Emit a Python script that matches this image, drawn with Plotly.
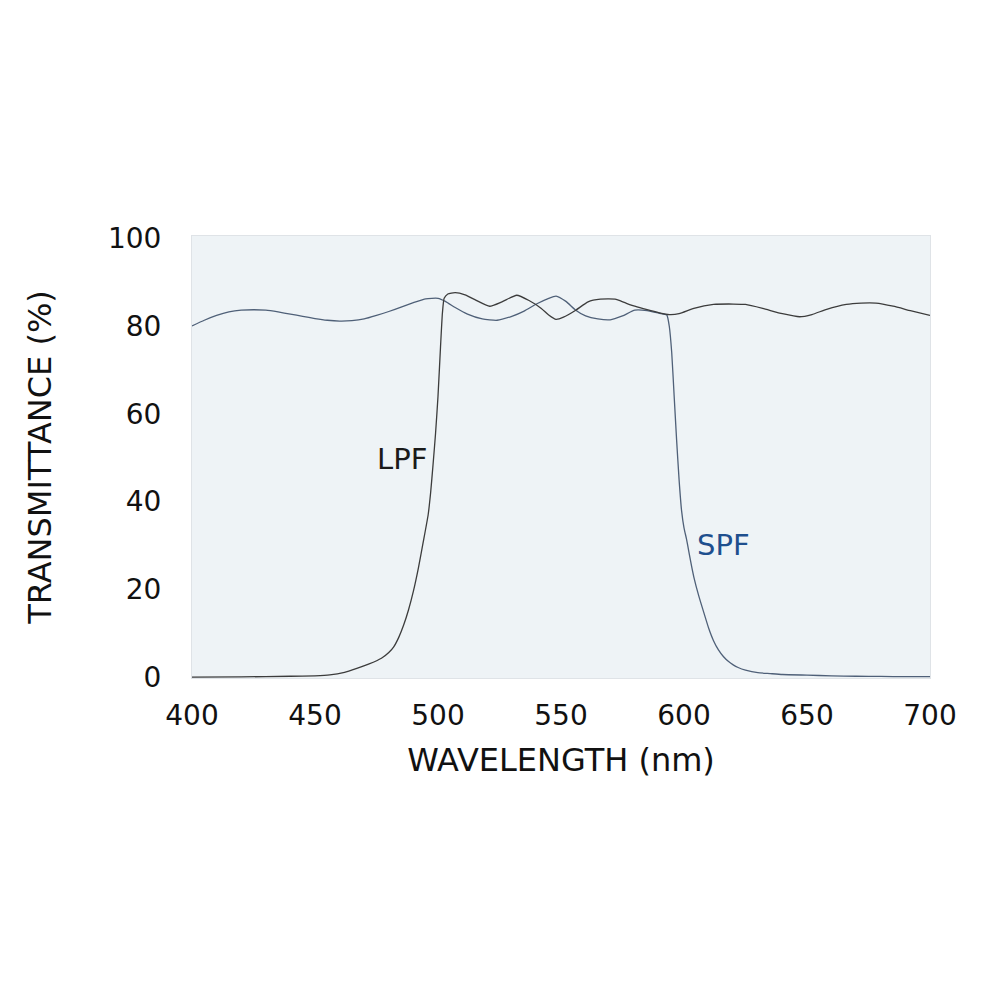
import plotly.graph_objects as go

# SPF (short-pass filter) curve: wavelength (nm) and transmittance (%)
spf_wl = [400, 405, 410, 415, 420, 425, 430, 435, 440, 445, 450, 455, 460, 465, 470, 475,
          480, 485, 490, 495, 500, 503, 507, 512, 518, 524, 530, 535, 540, 545, 548, 552,
          556, 560, 565, 570, 575, 580, 585, 590, 593, 594, 595, 596, 597, 598, 599, 600,
          601, 602, 603, 604, 606, 608, 610, 612, 614, 616, 618, 620, 622, 625, 630, 635,
          640, 650, 660, 670, 680, 690, 700]
spf_t = [80.0, 81.3, 82.4, 83.2, 83.6, 83.7, 83.6, 83.2, 82.7, 82.2, 81.7, 81.3, 81.1, 81.2, 81.6, 82.4,
         83.3, 84.3, 85.3, 86.2, 86.3, 85.6, 84.2, 82.7, 81.6, 81.3, 82.2, 83.4, 85.0, 86.3, 86.8, 85.6,
         83.6, 82.3, 81.6, 81.4, 82.3, 83.6, 83.5, 82.9, 82.5, 80.0, 74.0, 64.0, 54.0, 45.0, 38.0, 34.0,
         31.5, 28.5, 25.5, 22.8, 18.5, 14.8, 11.2, 8.3, 6.2, 4.7, 3.6, 2.8, 2.2, 1.6, 1.0, 0.8,
         0.6, 0.45, 0.3, 0.2, 0.15, 0.1, 0.1]

# LPF (long-pass filter) curve
lpf_wl = [400, 420, 440, 450, 456, 462, 467, 472, 477, 480, 482, 484, 486, 488, 490, 492,
          494, 496, 497, 498, 499, 500, 501, 501.8, 502.5, 504, 507, 511, 515, 521, 526, 532,
          537, 542, 545, 548, 551, 556, 561, 566, 572, 576, 580, 585, 590, 594, 598, 604,
          612, 620, 625, 632, 640, 647, 652, 658, 666, 672, 678, 685, 692, 700]
lpf_t = [0.0, 0.05, 0.2, 0.3, 0.5, 1.1, 2.0, 3.0, 4.3, 5.6, 6.9, 9.0, 11.8, 15.3, 19.6, 24.8,
         30.8, 37.0, 42.0, 48.5, 55.5, 64.0, 75.0, 83.0, 86.3, 87.3, 87.6, 87.1, 86.0, 84.5, 85.5, 87.0,
         85.8, 84.0, 82.5, 81.5, 82.0, 83.6, 85.5, 86.1, 86.1, 85.3, 84.5, 83.7, 83.0, 82.6, 82.8, 84.0,
         84.9, 85.0, 84.9, 84.0, 82.8, 82.1, 82.6, 83.8, 84.9, 85.2, 85.2, 84.5, 83.5, 82.4]

x_ticks = [400, 450, 500, 550, 600, 650, 700]
y_ticks = [0, 20, 40, 60, 80, 100]

FONT = "DejaVu Sans"

fig = go.Figure()
fig.add_trace(go.Scatter(x=spf_wl, y=spf_t, mode="lines", name="SPF",
                         line=dict(color="#4f6078", width=1.3, shape="spline", smoothing=0.5),
                         showlegend=False))
fig.add_trace(go.Scatter(x=lpf_wl, y=lpf_t, mode="lines", name="LPF",
                         line=dict(color="#3c3c3c", width=1.3, shape="spline", smoothing=0.5),
                         showlegend=False))

fig.add_annotation(x=485.3, y=49.8, text="LPF", showarrow=False,
                   font=dict(family=FONT, size=29, color="#1a1a1a"))
fig.add_annotation(x=616, y=30, text="SPF", showarrow=False,
                   font=dict(family=FONT, size=29, color="#1e4f8e"))

fig.update_layout(
    width=1000, height=1000,
    margin=dict(l=184, r=78, t=228, b=330, autoexpand=False),
    paper_bgcolor="white",
    plot_bgcolor="#eef3f6",
    font=dict(family=FONT, color="#111111"),
)
fig.update_xaxes(range=[400, 700], tickvals=x_ticks, ticktext=[str(v) for v in x_ticks],
                 showgrid=False, zeroline=False, showline=True, mirror=True,
                 linecolor="#dfe3e7", linewidth=1, ticks="", ticklabelstandoff=12,
                 automargin=False,
                 tickfont=dict(family=FONT, size=28, color="#111111"),
                 title=dict(text="WAVELENGTH (nm)", font=dict(family=FONT, size=32, color="#111111"),
                            standoff=18))
fig.update_yaxes(range=[-0.2, 100.5], tickvals=y_ticks, ticktext=[str(v) for v in y_ticks],
                 showgrid=False, zeroline=False, showline=True, mirror=True,
                 linecolor="#dfe3e7", linewidth=1, ticks="", ticklabelstandoff=24,
                 automargin=False,
                 tickfont=dict(family=FONT, size=28, color="#111111"),
                 title=dict(text="TRANSMITTANCE (%)", font=dict(family=FONT, size=32, color="#111111"),
                            standoff=46))

fig.write_html("out.html")
